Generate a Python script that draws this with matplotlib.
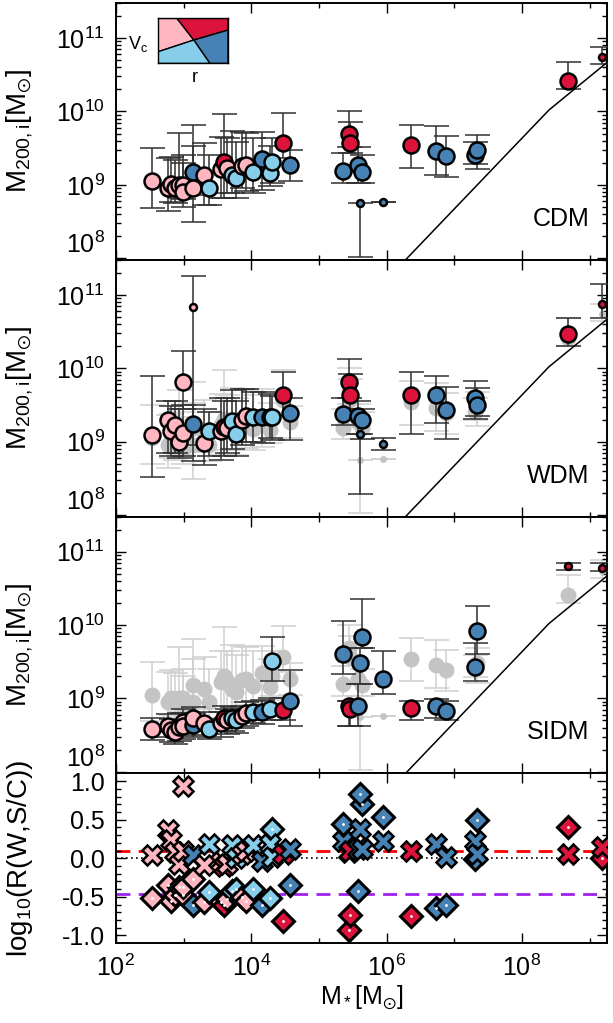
import numpy as np
import matplotlib.pyplot as plt
from matplotlib.patches import Polygon
from matplotlib.ticker import FixedLocator, NullFormatter

plt.rcParams['font.family'] = ['Liberation Sans', 'DejaVu Sans']
plt.rcParams['mathtext.fontset'] = 'custom'
plt.rcParams['mathtext.rm'] = 'Liberation Sans'
plt.rcParams['mathtext.it'] = 'Liberation Sans'
plt.rcParams['mathtext.default'] = 'regular'

# --- datos (log10) ---
log_mstar = [2.53, 2.77, 2.82, 2.88, 2.93, 2.99, 2.99, 3.14, 3.14, 3.30,
             3.37, 3.55, 3.60, 3.64, 3.71, 3.78, 3.87, 3.93, 4.03, 4.16,
             4.28, 4.30, 4.47, 4.57, 5.36, 5.45, 5.46, 5.58, 5.64, 5.61,
             5.95, 6.36, 6.73, 6.88, 7.30, 7.33, 8.68, 9.18]
clase = ['pk', 'pk', 'pk', 'pk', 'pk', 'pk', 'pk', 'sb', 'pk', 'pk',
         'lb', 'pk', 'rd', 'pk', 'lb', 'lb', 'pk', 'pk', 'lb', 'sb',
         'lb', 'lb', 'rd', 'sb', 'sb', 'rd', 'rd', 'sb', 'sb', 'sb',
         'sb', 'rd', 'sb', 'sb', 'sb', 'sb', 'rd', 'rd']

cdm = [9.05, 8.95, 9.01, 8.95, 9.00, 9.00, 8.90, 9.18, 8.95, 9.13,
       8.95, 9.22, 9.31, 9.23, 9.13, 9.09, 9.25, 9.27, 9.17, 9.35,
       9.16, 9.31, 9.57, 9.27, 9.19, 9.69, 9.57, 9.27, 9.18, 8.75,
       8.76, 9.54, 9.46, 9.39, 9.41, 9.48, 10.41, 10.74]
cdm_hi = [9.50, 9.36, 9.38, 9.34, 9.70, 9.40, 9.30, 9.53, 9.81, 9.57,
          9.40, 9.65, 9.97, 9.64, 9.73, 9.59, 9.72, 9.70, 9.64, 9.72,
          9.53, 9.64, 9.98, 9.48, 9.44, 10.00, 9.85, 9.51, 9.40, 8.75,
          8.76, 9.82, 9.80, 9.66, 9.59, 9.68, 10.68, 10.88]
cdm_lo = [8.69, 8.64, 8.77, 8.75, 8.82, 8.80, 8.70, 8.86, 8.49, 8.73,
          8.73, 8.82, 8.82, 8.89, 8.89, 8.82, 8.95, 8.91, 8.89, 8.93,
          8.98, 9.03, 9.36, 9.05, 9.03, 9.51, 9.44, 9.03, 9.03, 8.02,
          8.76, 9.23, 9.14, 9.10, 9.29, 9.21, 10.30, 10.64]

wdm = [9.09, 9.29, 9.15, 9.22, 9.00, 9.12, 9.81, 9.24, 10.84, 8.98,
       9.15, 9.14, 9.20, 9.18, 9.28, 9.11, 9.29, 9.35, 9.33, 9.33,
       9.34, 9.33, 9.63, 9.39, 9.38, 9.81, 9.63, 9.35, 9.30, 9.11,
       8.97, 9.63, 9.63, 9.43, 9.60, 9.50, 10.46, 10.87]
wdm_hi = [9.90, 9.55, 9.48, 9.55, 9.45, 9.50, 10.23, 9.50, 11.26, 9.45,
          9.40, 9.60, 9.55, 9.60, 9.70, 9.55, 9.72, 9.72, 9.68, 9.68,
          9.65, 9.62, 9.95, 9.60, 9.59, 10.13, 9.92, 9.55, 9.45, 9.11,
          9.05, 9.95, 9.89, 9.75, 9.82, 9.73, 10.69, 11.15]
wdm_lo = [8.52, 8.85, 8.80, 8.85, 8.78, 8.80, 9.45, 8.95, 8.74, 8.68,
          8.80, 8.75, 8.80, 8.85, 8.90, 8.80, 8.95, 9.00, 9.00, 8.98,
          9.05, 9.02, 9.35, 9.02, 9.22, 9.59, 9.45, 9.10, 9.04, 8.29,
          8.89, 9.10, 9.25, 9.03, 9.31, 9.35, 10.30, 10.69]

sidm = [8.58, 8.62, 8.57, 8.54, 8.61, 8.68, 8.62, 8.64, 8.73, 8.67,
        8.58, 8.66, 8.73, 8.70, 8.73, 8.70, 8.76, 8.80, 8.82, 8.82,
        8.85, 9.51, 8.84, 8.97, 9.61, 8.89, 8.85, 8.89, 9.84, 9.48,
        9.26, 8.87, 8.89, 8.83, 9.43, 9.92, 10.80, 10.77]
sidm_hi = [8.73, 8.78, 8.72, 8.70, 8.80, 8.85, 8.80, 8.80, 8.88, 8.82,
           8.72, 8.82, 8.90, 8.85, 8.88, 8.85, 8.90, 8.95, 8.97, 8.98,
           9.00, 9.84, 9.00, 9.38, 10.05, 8.96, 8.96, 9.20, 10.35, 9.69,
           9.64, 8.97, 8.99, 8.97, 9.76, 10.26, 10.84, 10.85]
sidm_lo = [8.43, 8.47, 8.40, 8.38, 8.42, 8.50, 8.45, 8.48, 8.55, 8.50,
           8.44, 8.48, 8.55, 8.52, 8.56, 8.53, 8.60, 8.63, 8.66, 8.65,
           8.70, 9.24, 8.70, 8.63, 9.33, 8.62, 8.62, 8.63, 9.69, 9.20,
           9.06, 8.71, 8.73, 8.70, 9.23, 9.60, 10.75, 10.74]

# residuos log10(M_WDM/M_CDM) (cruces) y log10(M_SIDM/M_CDM) (rombos)
res_wdm = [0.04, 0.37, 0.24, 0.08, -0.07, 0.10, 0.93, 0.04, np.nan, -0.09,
           0.19, -0.05, -0.10, -0.08, 0.17, 0.00, 0.05, 0.10, 0.17, -0.03,
           0.19, 0.02, 0.06, 0.12, 0.22, 0.08, 0.10, 0.12, 0.12, 0.38,
           0.23, 0.10, 0.19, 0.02, 0.22, 0.05, 0.05, 0.15]
res_sidm = [-0.52, -0.35, -0.55, -0.48, -0.37, -0.48, -0.37, -0.60, -0.27, -0.57,
            -0.44, -0.57, -0.61, -0.53, -0.42, -0.40, -0.50, -0.55, -0.40, -0.61,
            -0.52, 0.38, -0.81, -0.35, 0.45, -0.93, -0.73, -0.43, 0.70, 0.83,
            0.53, -0.75, -0.65, -0.61, -0.01, 0.49, 0.40, 0.01]

# puntos chicos en cada panel
chicos_cdm = [29, 30, 37]
chicos_wdm = [8, 29, 30, 37]
chicos_sidm = [36, 37]

# relacion de abundancia (linea negra)
linea_x = [6.2, 8.4, 9.3]
linea_y = [7.9, 10.02, 10.7]

linea_roja = 0.09
linea_violeta = -0.46

COLORES = {'pk': '#FFB6C1', 'rd': '#DC143C', 'lb': '#87CEEB', 'sb': '#4682B4'}
FS = 18
FUENTE_LABEL = ['Liberation Sans Narrow', 'Liberation Sans', 'DejaVu Sans']

fig = plt.figure(figsize=(6.13, 10.23), dpi=100)
gs = fig.add_gridspec(4, 1, height_ratios=[257, 257, 257, 170], hspace=0,
                      left=0.189, right=0.990, top=0.997, bottom=0.078)
axes = [fig.add_subplot(gs[i]) for i in range(4)]

x = 10 ** np.array(log_mstar)


def estilo(ax):
    ax.tick_params(which='both', direction='in', top=True, right=True,
                   labelsize=FS, width=1)
    ax.tick_params(which='major', length=7, pad=8)
    ax.tick_params(which='minor', length=3.5)
    for s in ax.spines.values():
        s.set_linewidth(1.4)
    ax.set_xscale('log')
    ax.set_xlim(1e2, 1.8e9)
    ax.xaxis.set_major_locator(FixedLocator([1e2, 1e4, 1e6, 1e8]))
    ax.xaxis.set_minor_locator(FixedLocator([1e3, 1e5, 1e7, 1e9]))
    ax.xaxis.set_minor_formatter(NullFormatter())


def barras(ax, y, hi, lo, ecolor, z):
    y = 10 ** np.array(y)
    err = [y - 10 ** np.array(lo), 10 ** np.array(hi) - y]
    ax.errorbar(x, y, yerr=err, fmt='none', ecolor=ecolor, elinewidth=1.1,
                capsize=9, capthick=1.1, zorder=z)


def puntos(ax, y, chicos, gris=False, z=5):
    for i, (xi, yi) in enumerate(zip(x, y)):
        ms = 5 if i in chicos else 11.5
        if gris:
            ax.plot(xi, 10 ** yi, 'o', ms=ms, color='#c4c4c4', mec='none', zorder=z)
        else:
            ax.plot(xi, 10 ** yi, 'o', ms=ms, mfc=COLORES[clase[i]], mec='black',
                    mew=1.8, zorder=z)


paneles = [(cdm, cdm_hi, cdm_lo, chicos_cdm, 'CDM'),
           (wdm, wdm_hi, wdm_lo, chicos_wdm, 'WDM'),
           (sidm, sidm_hi, sidm_lo, chicos_sidm, 'SIDM')]

for k, (y, hi, lo, chicos, nombre) in enumerate(paneles):
    ax = axes[k]
    estilo(ax)
    ax.set_yscale('log')
    ax.set_ylim(9.5e7, 3e11)
    ax.yaxis.set_major_locator(FixedLocator([1e8, 1e9, 1e10, 1e11]))
    if k > 0:
        barras(ax, cdm, cdm_hi, cdm_lo, '#d0d0d0', 1)
        puntos(ax, cdm, chicos_cdm, gris=True, z=2)
    barras(ax, y, hi, lo, '#303030', 3)
    puntos(ax, y, chicos)
    ax.plot(10 ** np.array(linea_x), 10 ** np.array(linea_y), color='black', lw=1.1, zorder=4)
    ax.text(0.965, 0.16, nombre, transform=ax.transAxes, ha='right', va='center', fontsize=FS)
    ax.set_ylabel(r'M$_{200,i}$[M$_{{\odot}}$]', fontsize=20, family=FUENTE_LABEL)
    ax.yaxis.set_label_coords(-0.165, 0.5)
    ax.tick_params(labelbottom=False)
    # la etiqueta 10^8 queda un poco por encima del borde inferior
    ax.yaxis.get_major_ticks()[0].label1.set_verticalalignment('bottom')

# panel de residuos
ax = axes[3]
estilo(ax)
ax.set_ylim(-1.1, 1.1)
ax.yaxis.set_major_locator(FixedLocator([-1.0, -0.5, 0.0, 0.5, 1.0]))
ax.yaxis.set_minor_locator(FixedLocator(np.arange(-1.0, 1.05, 0.1)))
ax.set_yticklabels(['-1.0', '-0.5', '0.0', '0.5', '1.0'])
ax.axhline(0, color='black', ls=(0, (1, 2)), lw=1.2, zorder=1)
ax.axhline(linea_roja, color='red', ls=(0, (5, 3)), lw=2, zorder=1)
ax.axhline(linea_violeta, color='#A020F0', ls=(0, (5, 3)), lw=2, zorder=1)
for i in range(len(x)):
    c = COLORES[clase[i]]
    ax.plot(x[i], res_sidm[i], 'D', ms=11, mfc=c, mec='black', mew=2.2, zorder=3)
    ax.plot(x[i], res_sidm[i], '.', ms=2, color='white', zorder=4)
for i in range(len(x)):
    c = COLORES[clase[i]]
    ax.plot(x[i], res_wdm[i], 'X', ms=14, mfc=c, mec='black', mew=1.8, zorder=5)
ax.set_ylabel(r'log$_{10}$(R(W,S/C))', fontsize=20, family=FUENTE_LABEL)
ax.yaxis.set_label_coords(-0.165, 0.5)
ax.set_xlabel(r'M$_*$[M$_{{\odot}}$]', fontsize=FS, labelpad=2)

# leyenda de colores (Vc vs r)
leg = fig.add_axes([0.258, 0.938, 0.114, 0.044])
leg.set_xlim(0, 1)
leg.set_ylim(0, 1)
leg.set_xticks([])
leg.set_yticks([])
for s in leg.spines.values():
    s.set_linewidth(1)
cen = (0.51, 0.52)
formas = {'pk': [(0, 1), (0.27, 1), cen, (0, 0.26)],
          'rd': [(0.27, 1), (1, 1), (1, 0.74), cen],
          'sb': [cen, (1, 0.74), (1, 0), (0.74, 0)],
          'lb': [(0, 0.26), cen, (0.74, 0), (0, 0)]}
for c, pts in formas.items():
    leg.add_patch(Polygon(pts, closed=True, fc=COLORES[c], ec='black', lw=1))
fig.text(138 / 613, 1 - 44 / 1023, r'V$_c$', fontsize=13, ha='center', va='center')
fig.text(195 / 613, 1 - 78 / 1023, 'r', fontsize=13, ha='center', va='center')

fig.savefig('out.png', dpi=100)
